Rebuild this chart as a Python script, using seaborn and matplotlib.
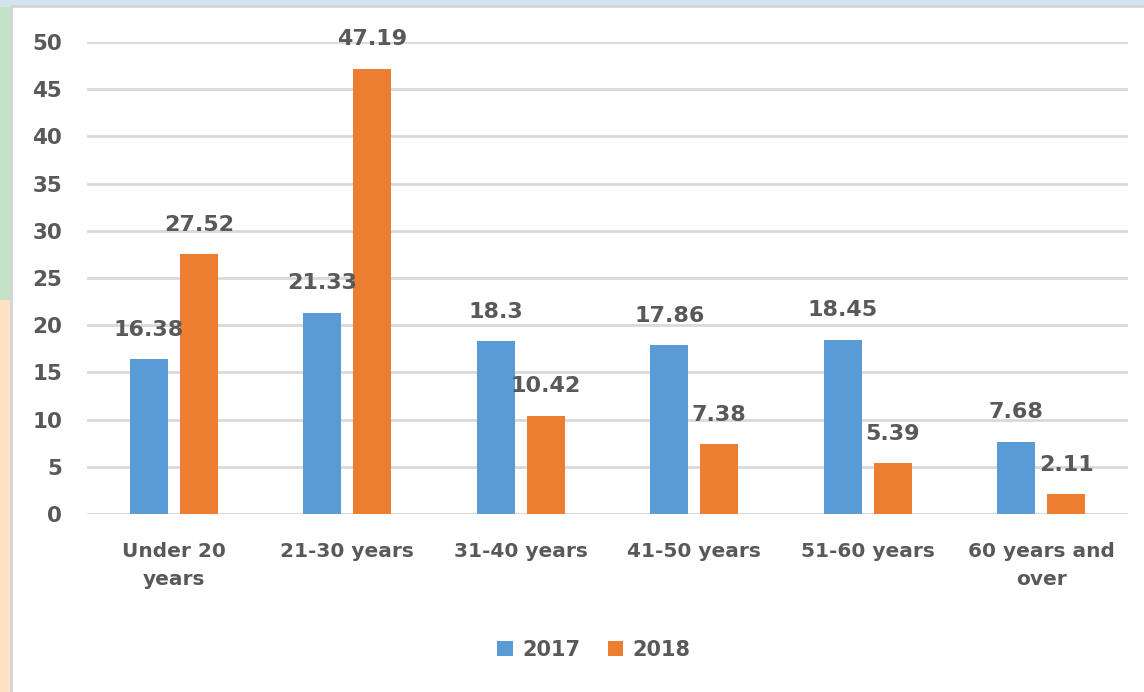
import matplotlib
matplotlib.use("Agg")
import matplotlib.pyplot as plt
import matplotlib.patches as mpatches
import seaborn as sns
import pandas as pd

# Age groups and the share (%) for each year
age_groups = ["Under 20\nyears", "21-30 years", "31-40 years",
              "41-50 years", "51-60 years", "60 years and\nover"]
years = ["2017", "2018"]
values_2017 = [16.38, 21.33, 18.3, 17.86, 18.45, 7.68]
values_2018 = [27.52, 47.19, 10.42, 7.38, 5.39, 2.11]
y_ticks = [0, 5, 10, 15, 20, 25, 30, 35, 40, 45, 50]

colors = {"2017": "#5B9BD5", "2018": "#ED7D31"}
text_gray = "#595959"
grid_gray = "#D9D9D9"

df = pd.DataFrame({
    "group": age_groups * 2,
    "year": [years[0]] * len(age_groups) + [years[1]] * len(age_groups),
    "value": values_2017 + values_2018,
})

sns.set_theme(style="white")
plt.rcParams["font.family"] = ["DejaVu Sans"]

W, H = 1144, 692
fig = plt.figure(figsize=(W / 100, H / 100), dpi=100)

# Window-like frame around the white chart panel (drawn beneath the axes)
frame = [
    mpatches.Rectangle((0, 1 - 7 / H), 1, 7 / H, facecolor="#D3E2EF", edgecolor="none"),
    mpatches.Rectangle((0, 1 - 300 / H), 11 / W, 293 / H, facecolor="#C4E2C6", edgecolor="none"),
    mpatches.Rectangle((0, 0), 11 / W, 1 - 300 / H, facecolor="#FCE1C3", edgecolor="none"),
    mpatches.Rectangle((11 / W, -0.01), 1.02 - 11 / W, 1 - 6 / H + 0.01,
                       facecolor="white", edgecolor="#D4D4D4", linewidth=2),
]
for p in frame:
    p.set_transform(fig.transFigure)
    p.set_zorder(-5)
    fig.add_artist(p)

ax = fig.add_axes([87 / W, 1 - 514 / H, (1128 - 87) / W, (514 - 42) / H])
ax.set_facecolor("none")

sns.barplot(data=df, x="group", y="value", hue="year", hue_order=years,
            palette=colors, width=0.577, gap=0.24, saturation=1,
            edgecolor="none", ax=ax, legend=True)

ax.set_xlim(-0.5, len(age_groups) - 0.5)
ax.set_ylim(0, 50)
ax.set_yticks(y_ticks)
ax.set_yticklabels([str(t) for t in y_ticks])
ax.set_xlabel("")
ax.set_ylabel("")

for container in ax.containers:
    labels = [f"{v:g}" for v in container.datavalues]
    ax.bar_label(container, labels=labels, padding=14, fontsize=16,
                 fontweight="bold", color=text_gray)

ax.grid(axis="y", color=grid_gray, linewidth=2)
ax.set_axisbelow(True)
for side in ["top", "right", "left", "bottom"]:
    ax.spines[side].set_visible(False)

ax.tick_params(axis="y", length=0, pad=18, labelsize=15.5, labelcolor=text_gray)
ax.tick_params(axis="x", length=0, pad=20, labelsize=14.5, labelcolor=text_gray)
for lbl in ax.get_yticklabels() + ax.get_xticklabels():
    lbl.set_fontweight("bold")
for lbl in ax.get_xticklabels():
    lbl.set_linespacing(1.6)

leg = ax.legend(loc="center", bbox_to_anchor=(594 / W, 1 - 650 / H),
                bbox_transform=fig.transFigure, ncol=2, frameon=False,
                handlelength=0.75, handleheight=0.75, handletextpad=0.45,
                columnspacing=1.3, prop={"size": 15, "weight": "bold"})
for t in leg.get_texts():
    t.set_color(text_gray)

fig.savefig("out.png", dpi=100)
